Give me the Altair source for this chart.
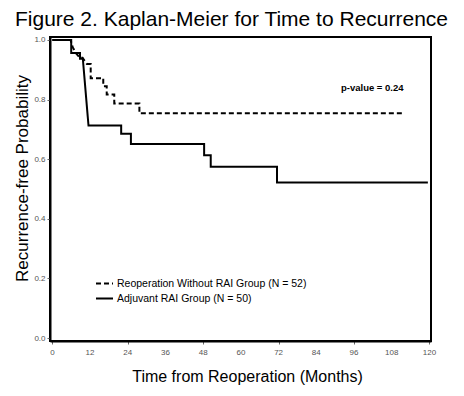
import altair as alt
import pandas as pd

# Reoperation Without RAI Group (dashed) - path vertices
reop_month = [0, 5.8, 6.5, 7.5, 8.8, 9.6, 11.0, 12.2, 12.2, 16.2, 16.2, 17.3, 17.3, 19.7, 19.7, 27.7, 27.7, 111.7]
reop_prob = [1.0, 1.0, 0.975, 0.956, 0.94, 0.94, 0.919, 0.919, 0.872, 0.872, 0.845, 0.845, 0.817, 0.817, 0.787, 0.787, 0.754, 0.754]

# Adjuvant RAI Group (solid)
adj_month = [0, 6.0, 6.0, 8.8, 8.8, 9.7, 11.5, 21.9, 21.9, 25.0, 25.0, 48.3, 48.3, 50.4, 50.4, 71.5, 71.5, 119.5]
adj_prob = [1.0, 1.0, 0.956, 0.956, 0.937, 0.937, 0.713, 0.713, 0.685, 0.685, 0.651, 0.651, 0.613, 0.613, 0.575, 0.575, 0.522, 0.522]

groups = ["Reoperation Without RAI Group (N = 52)", "Adjuvant RAI Group (N = 50)"]
x_ticks = [0, 12, 24, 36, 48, 60, 72, 84, 96, 108, 120]
y_ticks = [0.0, 0.2, 0.4, 0.6, 0.8, 1.0]
pval_text = ["p-value = 0.24"]
pval_x = [101.8]
pval_y = [0.839]

rows = []
for i, (m, p) in enumerate(zip(reop_month, reop_prob)):
    rows.append({"group": groups[0], "month": m, "prob": p, "order": i})
for i, (m, p) in enumerate(zip(adj_month, adj_prob)):
    rows.append({"group": groups[1], "month": m, "prob": p, "order": i})
df = pd.DataFrame(rows)

FONT = "Liberation Sans"
X_DOMAIN = [-0.75, 120.5]
Y_DOMAIN = [-0.01, 1.01]

lines = alt.Chart(df).mark_line(color="black", strokeWidth=2, interpolate="linear").encode(
    x=alt.X("month:Q", scale=alt.Scale(domain=X_DOMAIN, nice=False, zero=False),
            axis=alt.Axis(values=x_ticks, title="Time from Reoperation (Months)", grid=False,
                          domain=True, domainColor="black", domainWidth=2,
                          tickColor="#666", tickSize=3, labels=False,
                          titleFont=FONT, titleFontSize=16, titleFontWeight="normal",
                          titleColor="black", titlePadding=24, titleX=197)),
    y=alt.Y("prob:Q", scale=alt.Scale(domain=Y_DOMAIN, nice=False, zero=False),
            axis=alt.Axis(values=y_ticks, format=".1f", title="Recurrence-free Probability", grid=False,
                          domain=True, domainColor="black", domainWidth=2,
                          tickColor="#666", tickSize=3, labelColor="#555",
                          labelFontSize=8, labelFont=FONT, labelPadding=2, labelOverlap=False,
                          titleFont=FONT, titleFontSize=17, titleFontWeight="normal",
                          titleColor="black", titlePadding=2, titleY=141)),
    strokeDash=alt.StrokeDash("group:N", sort=groups,
                              scale=alt.Scale(domain=groups, range=[[5, 3], [1, 0]]),
                              legend=alt.Legend(title=None, orient="none", legendX=45, legendY=237,
                                                padding=0,
                                                labelFont=FONT, labelFontSize=10.5, labelColor="black",
                                                symbolType="stroke", symbolStrokeWidth=2,
                                                symbolStrokeColor="black", symbolSize=289,
                                                rowPadding=0, labelOffset=3, labelLimit=400)),
    order="order:Q",
)

xlab = pd.DataFrame({"m": x_ticks, "lab": [str(v) for v in x_ticks], "p": [Y_DOMAIN[0]] * len(x_ticks)})
xlabels = alt.Chart(xlab).mark_text(font=FONT, fontSize=8, color="#555", baseline="middle", dy=12).encode(
    x="m:Q", y="p:Q", text="lab:N")

pdf = pd.DataFrame({"t": pval_text, "x": pval_x, "y": pval_y})
ptext = alt.Chart(pdf).mark_text(font=FONT, fontSize=9.5, fontWeight="bold", color="black").encode(
    x="x:Q", y="y:Q", text="t:N")

chart = alt.layer(lines, xlabels, ptext).properties(
    width=381, height=304,
    title=alt.TitleParams("Figure 2. Kaplan-Meier for Time to Recurrence", font=FONT, fontSize=21,
                          fontWeight="normal", color="black", anchor="middle", offset=6, dx=-9),
    padding={"left": 5, "top": 0, "right": 5, "bottom": 0},
).configure(background="white").configure_view(stroke="black", strokeWidth=2).configure_axis(labelOverlap=False)

chart.save("out.html", embed_options={"renderer": "svg", "actions": False})
